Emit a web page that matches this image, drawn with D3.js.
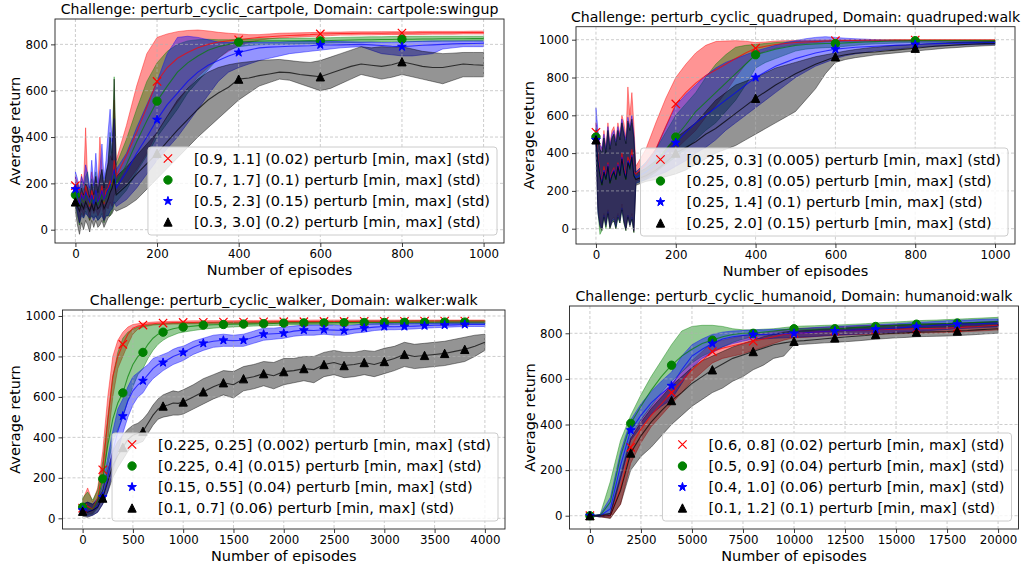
<!DOCTYPE html>
<html><head><meta charset="utf-8">
<script src="https://cdn.jsdelivr.net/npm/d3@7"></script>
<style>body{margin:0;background:#fff} svg{display:block} text{font-family:"DejaVu Sans",sans-serif;fill:#000}</style>
</head><body><svg id="c" width="1024" height="569"></svg>
<script>
// ---------------- DATA ----------------
const seriesColors = ['#ff0000','#008000','#0000ff','#000000'];
const seriesMarkers = ['x','o','*','^'];

// Panel 1: cartpole
const cartTitle = 'Challenge: perturb_cyclic_cartpole, Domain: cartpole:swingup';
const cartLabels = ['[0.9, 1.1] (0.02) perturb [min, max] (std)','[0.7, 1.7] (0.1) perturb [min, max] (std)','[0.5, 2.3] (0.15) perturb [min, max] (std)','[0.3, 3.0] (0.2) perturb [min, max] (std)'];
const cartXTicks = [0,200,400,600,800,1000];
const cartYTicks = [0,200,400,600,800];
const cartX = [0,5,10,15,20,25,30,35,40,45,50,55,60,65,70,75,80,85,90,95,100,125,150,175,200,225,250,275,300,325,350,375,400,425,450,475,500,525,550,575,600,625,650,675,700,725,750,775,800,825,850,875,900,925,950,975,1000];
const cartRedMean = [190,140,110,160,120,190,150,100,170,130,160,120,140,190,110,170,180,210,190,300,230,320,420,530,640,700,740,765,785,800,810,815,820,825,830,833,836,838,840,842,845,846,847,847,848,848,848,849,849,849,850,850,850,850,851,851,851];
const cartRedHi = [230,200,180,240,190,440,210,160,250,190,230,180,400,260,170,240,280,320,300,560,300,450,620,760,830,845,855,860,862,858,852,848,845,842,842,845,848,849,850,851,852,853,853,854,854,854,855,855,855,855,856,856,856,856,856,857,857];
const cartRedLo = [150,80,30,90,60,100,90,40,100,70,90,60,80,110,40,100,90,120,100,150,160,200,260,330,420,490,550,610,660,700,740,770,795,808,818,824,828,830,832,834,836,838,840,840,841,841,842,842,843,843,843,844,844,844,845,845,845];
const cartGreenMean = [150,130,100,140,120,150,140,110,130,120,160,110,130,150,120,140,160,180,200,250,200,280,380,470,555,620,680,720,750,775,790,800,810,812,814,815,815,815,815,816,815,817,818,819,820,820,821,821,822,822,823,823,824,824,824,825,825];
const cartGreenHi = [190,200,160,210,170,230,250,170,220,180,250,170,220,260,190,250,280,420,330,660,280,390,520,640,720,770,800,815,820,822,820,820,822,823,824,825,826,826,827,827,828,829,830,831,832,833,833,834,835,835,835,835,835,835,835,835,835];
const cartGreenLo = [110,60,20,70,50,80,60,40,60,50,60,40,50,70,30,60,60,60,80,110,120,170,250,320,400,460,520,590,640,690,740,775,790,795,798,800,800,801,802,803,805,806,807,808,809,810,810,811,812,812,813,813,814,814,815,815,815];
const cartBlueMean = [175,140,110,150,130,160,140,120,150,110,170,120,140,170,130,150,170,190,220,260,180,250,330,400,475,540,590,640,680,710,730,750,765,775,785,788,790,792,793,794,798,797,798,799,800,798,795,792,790,793,796,798,800,802,803,804,805];
const cartBlueHi = [250,220,170,230,200,280,240,180,300,190,330,200,260,370,220,300,420,520,380,480,260,330,440,540,640,760,830,835,830,820,810,808,810,810,810,810,810,812,813,814,815,813,812,811,810,810,808,808,810,812,813,815,815,815,815,815,815];
const cartBlueLo = [120,70,30,60,50,70,60,50,60,40,60,40,50,60,40,60,60,80,90,120,100,130,180,240,300,350,400,460,520,580,640,680,700,715,730,740,750,760,765,770,775,780,785,788,790,775,760,755,750,750,755,760,780,785,790,790,790];
const cartBlackMean = [120,100,80,110,90,120,100,80,110,80,120,90,100,130,90,110,130,160,180,220,150,190,240,285,330,380,430,475,520,560,590,615,650,655,665,672,680,678,670,665,660,675,690,705,715,710,705,712,725,715,705,700,700,708,715,712,710];
const cartBlackHi = [160,170,140,180,150,200,180,140,200,150,230,160,220,260,180,240,290,400,300,650,230,270,320,370,420,490,560,610,650,680,700,712,720,725,730,733,735,730,725,722,730,745,760,775,790,785,790,788,790,780,770,765,760,762,765,765,765];
const cartBlackLo = [80,20,-20,30,0,40,20,-10,40,10,40,10,20,40,10,30,50,60,70,90,80,100,130,175,220,265,310,355,400,440,480,520,560,590,620,635,650,645,630,615,600,610,630,650,670,660,650,658,670,660,650,640,630,645,660,660,660];

// Panel 2: quadruped
const quadTitle = 'Challenge: perturb_cyclic_quadruped, Domain: quadruped:walk';
const quadLabels = ['[0.25, 0.3] (0.005) perturb [min, max] (std)','[0.25, 0.8] (0.05) perturb [min, max] (std)','[0.25, 1.4] (0.1) perturb [min, max] (std)','[0.25, 2.0] (0.15) perturb [min, max] (std)'];
const quadXTicks = [0,200,400,600,800,1000];
const quadYTicks = [0,200,400,600,800,1000];
const quadX = [0,5,10,15,20,25,30,35,40,45,50,55,60,65,70,75,80,85,90,95,100,125,150,175,200,225,250,275,300,325,350,375,400,425,450,475,500,525,550,575,600,625,650,675,700,725,750,775,800,825,850,875,900,925,950,975,1000];
const quadRedMean = [510,380,300,250,330,280,350,260,300,320,280,350,300,400,330,280,380,350,420,300,290,340,420,540,660,720,770,810,840,870,900,930,955,965,975,980,985,988,990,993,995,996,996,997,997,997,998,998,998,998,998,998,998,998,998,998,998];
const quadRedHi = [560,500,450,420,520,430,560,450,520,540,470,560,500,600,560,480,750,600,720,550,330,420,560,690,800,870,930,970,990,993,995,992,985,988,993,995,996,997,998,999,1000,1000,1000,1000,1000,1000,1000,1000,1000,1000,1000,1000,1000,1000,1000,1000,1000];
const quadRedLo = [460,120,40,0,80,30,100,10,50,60,30,80,50,130,50,0,70,30,80,-10,250,270,300,350,420,470,520,590,650,720,800,870,920,940,955,965,975,980,985,988,990,991,992,992,993,993,993,993,993,993,993,993,993,993,993,993,993];
const quadGreenMean = [485,350,280,230,300,260,330,240,280,300,260,330,280,370,300,260,350,320,380,280,270,300,350,420,485,550,620,670,720,770,820,870,920,935,950,960,970,975,978,980,980,983,986,988,990,992,993,994,995,995,995,995,995,995,995,995,995];
const quadGreenHi = [530,480,420,400,480,400,520,420,480,500,440,520,470,560,500,450,560,520,560,480,300,350,420,510,600,660,720,800,870,920,960,970,975,980,985,988,990,992,993,994,995,996,996,997,997,998,998,998,998,998,998,998,998,998,998,998,998];
const quadGreenLo = [440,100,-30,-10,60,0,80,0,40,40,0,60,30,100,30,-10,60,20,50,-20,240,260,300,340,380,420,470,520,560,620,680,760,850,880,900,920,940,950,955,958,960,965,970,975,978,980,982,984,985,985,985,985,985,985,985,985,985];
const quadBlueMean = [470,360,290,240,310,270,340,250,290,310,270,340,290,380,310,270,360,330,390,290,270,300,340,400,455,510,560,600,640,680,720,760,800,830,860,880,900,915,930,940,950,955,960,963,965,968,970,972,975,977,979,980,981,982,983,984,985];
const quadBlueHi = [640,520,440,430,500,420,540,440,500,520,460,540,490,580,520,470,590,540,600,500,300,350,420,540,650,710,760,810,850,880,900,920,940,955,970,985,995,1005,1012,1016,1012,1008,1005,1003,1000,998,997,996,995,994,993,992,991,991,990,990,990];
const quadBlueLo = [420,90,20,0,70,20,90,10,40,50,10,70,40,110,40,0,70,20,60,-10,240,260,280,300,330,360,400,430,470,520,560,600,640,680,720,760,800,830,860,880,900,915,925,932,940,945,950,955,960,963,966,968,970,972,973,974,975];
const quadBlackMean = [470,350,280,230,300,260,330,240,280,300,260,330,280,370,300,260,350,320,380,280,260,280,310,350,400,430,460,500,530,570,610,650,690,725,760,790,820,845,870,890,910,920,928,932,935,940,945,950,955,960,965,968,972,975,977,979,980];
const quadBlackHi = [520,480,420,400,480,400,520,420,480,500,440,520,470,560,500,450,570,520,580,480,290,320,360,420,480,520,560,620,680,720,760,780,800,825,850,865,880,895,910,920,930,940,948,955,960,965,970,972,975,978,980,983,985,987,988,989,990];
const quadBlackLo = [420,80,10,-10,60,10,80,0,30,40,0,60,30,100,30,-10,60,10,50,-20,230,250,260,275,290,310,340,370,400,420,440,470,500,530,560,590,620,680,740,820,880,895,905,912,920,925,930,935,940,945,950,955,958,962,965,968,970];

// Panel 3: walker
const walkTitle = 'Challenge: perturb_cyclic_walker, Domain: walker:walk';
const walkLabels = ['[0.225, 0.25] (0.002) perturb [min, max] (std)','[0.225, 0.4] (0.015) perturb [min, max] (std)','[0.15, 0.55] (0.04) perturb [min, max] (std)','[0.1, 0.7] (0.06) perturb [min, max] (std)'];
const walkXTicks = [0,500,1000,1500,2000,2500,3000,3500,4000];
const walkYTicks = [0,200,400,600,800,1000];
const walkX = [0,50,100,150,200,250,300,350,400,450,500,550,600,650,700,750,800,850,900,950,1000,1100,1200,1300,1400,1500,1600,1700,1800,1900,2000,2100,2200,2300,2400,2500,2600,2700,2800,2900,3000,3100,3200,3300,3400,3500,3600,3700,3800,3900,4000];
const walkRedMean = [50,60,45,100,240,480,700,800,860,910,940,950,955,960,962,964,965,966,967,967,968,968,969,969,970,970,970,971,971,971,972,972,972,972,973,973,973,973,974,974,974,974,974,975,975,975,975,975,975,975,975];
const walkRedHi = [90,150,80,150,330,600,800,880,920,945,958,962,965,968,970,971,972,973,974,974,975,976,976,977,977,977,978,978,978,979,979,979,979,980,980,980,980,980,980,980,980,980,980,980,980,980,980,980,980,980,980];
const walkRedLo = [20,20,25,60,170,380,600,740,800,860,910,935,945,950,955,957,958,959,960,960,961,961,962,962,963,963,963,964,964,964,965,965,965,965,966,966,966,966,967,967,967,967,967,968,968,968,968,968,968,968,968];
const walkGreenMean = [55,50,45,90,195,360,490,570,620,700,760,800,820,860,890,910,920,930,937,942,945,950,955,957,958,960,960,961,962,963,965,966,966,966,966,967,967,967,968,968,968,968,969,969,969,969,970,970,970,970,970];
const walkGreenHi = [100,130,90,140,280,500,700,820,890,920,935,945,950,955,958,960,962,963,964,965,965,966,967,968,968,969,969,970,970,971,972,973,973,973,973,974,974,974,975,975,975,975,976,976,976,976,977,977,977,977,977];
const walkGreenLo = [25,15,20,50,130,260,380,440,500,580,650,710,740,790,830,860,880,895,905,915,920,928,935,940,943,946,948,950,952,953,955,956,956,957,957,958,958,958,959,959,959,959,960,960,960,960,961,961,961,961,961];
const walkBlueMean = [40,35,40,60,105,200,330,430,505,580,630,660,680,710,740,760,770,785,800,810,820,845,865,875,880,878,880,895,910,912,915,925,930,928,932,930,928,935,940,945,948,947,948,950,952,954,955,956,958,958,958];
const walkBlueHi = [70,80,70,100,160,300,430,540,590,650,700,720,740,760,790,800,810,820,835,845,850,875,890,905,910,905,910,925,940,940,945,950,955,955,955,955,950,955,960,962,963,962,962,964,965,965,966,966,966,966,966];
const walkBlueLo = [15,10,15,30,70,130,230,330,420,500,560,600,620,660,690,710,730,745,760,770,780,810,830,845,850,850,850,865,880,885,890,900,905,905,910,905,905,915,920,928,932,932,934,936,940,942,944,946,948,948,948];
const walkBlackMean = [35,30,40,55,100,180,260,310,350,390,410,420,430,470,510,540,555,560,570,568,575,600,625,650,670,660,690,700,715,705,725,730,740,735,760,770,755,760,770,760,775,790,810,800,805,810,815,825,835,850,870];
const walkBlackHi = [70,80,70,90,140,240,330,380,410,440,460,470,490,520,560,590,610,620,630,625,635,660,690,710,730,725,750,760,775,770,790,790,800,800,820,830,820,820,830,825,840,850,870,860,865,870,875,885,895,905,910];
const walkBlackLo = [10,5,15,30,70,130,200,250,290,330,360,370,380,420,460,490,500,505,510,510,515,540,565,590,610,595,630,640,655,640,660,670,680,670,700,710,695,700,710,700,715,730,750,740,745,750,755,765,775,800,830];

// Panel 4: humanoid
const humTitle = 'Challenge: perturb_cyclic_humanoid, Domain: humanoid:walk';
const humLabels = ['[0.6, 0.8] (0.02) perturb [min, max] (std)','[0.5, 0.9] (0.04) perturb [min, max] (std)','[0.4, 1.0] (0.06) perturb [min, max] (std)','[0.1, 1.2] (0.1) perturb [min, max] (std)'];
const humXTicks = [0,2500,5000,7500,10000,12500,15000,17500,20000];
const humYTicks = [0,200,400,600,800];
const humX = [0,500,1000,1500,2000,2500,3000,3500,4000,4500,5000,5500,6000,6500,7000,7500,8000,8500,9000,9500,10000,10500,11000,11500,12000,12500,13000,13500,14000,14500,15000,15500,16000,16500,17000,17500,18000,18500,19000,19500,20000];
const humRedMean = [0,0,0,120,300,380,440,490,540,590,640,680,720,735,745,755,765,775,785,795,800,802,805,808,810,812,813,815,816,817,818,819,820,821,822,823,825,828,830,833,835];
const humRedHi = [0,0,10,180,340,420,480,530,580,630,680,720,760,770,780,790,795,800,808,815,820,822,824,826,828,830,832,834,835,836,837,838,839,840,841,842,843,845,847,849,850];
const humRedLo = [0,-5,-10,50,230,320,390,440,490,540,590,630,670,690,700,710,725,740,755,770,780,782,785,788,790,792,794,795,796,797,798,799,800,801,802,803,805,808,810,812,815];
const humGreenMean = [0,0,60,260,405,480,550,610,660,700,730,755,770,785,795,800,800,805,810,815,820,818,818,820,820,822,825,828,830,832,835,838,840,840,842,843,845,846,848,849,850];
const humGreenHi = [0,5,150,330,440,530,610,680,750,810,830,835,835,830,820,815,815,818,820,825,830,832,833,835,836,838,840,842,845,848,850,852,855,857,858,860,862,864,866,868,870];
const humGreenLo = [0,-5,10,180,350,420,480,540,590,630,670,700,720,740,760,775,785,790,795,800,810,806,806,808,808,810,812,814,816,818,820,822,824,825,826,827,828,829,830,831,832];
const humBlueMean = [0,0,30,220,375,440,495,535,570,640,700,730,755,775,785,790,795,795,797,798,800,802,805,808,810,812,814,816,818,820,823,826,830,832,835,838,840,841,842,844,845];
const humBlueHi = [0,5,80,280,420,490,545,590,630,700,750,775,795,805,810,812,815,815,817,818,820,822,825,828,830,832,834,836,838,840,842,845,848,850,852,855,857,858,860,862,863];
const humBlueLo = [0,-5,0,160,330,390,445,480,510,580,650,690,715,740,755,765,775,775,778,780,782,784,786,789,792,794,796,798,800,802,804,806,808,811,814,817,820,822,824,826,828];
const humBlackMean = [0,0,0,110,275,350,410,460,505,540,580,610,640,665,690,705,720,735,750,758,765,768,772,776,780,784,787,790,795,798,800,802,805,806,807,808,810,812,815,818,820];
const humBlackHi = [0,5,10,170,340,410,470,520,570,610,650,680,700,720,740,755,770,785,795,805,810,812,815,818,820,823,826,828,832,834,836,838,840,841,842,843,844,846,848,850,852];
const humBlackLo = [0,-5,-12,50,200,260,300,350,400,440,480,510,540,560,590,610,640,660,690,700,750,752,755,758,760,763,766,770,774,777,780,782,785,786,787,788,790,792,795,798,800];

// ---------------- LAYOUT ----------------
const panels = [
  {title: cartTitle, labels: cartLabels, x: cartX, xTicks: cartXTicks, yTicks: cartYTicks, markEvery: 200,
   means: [cartRedMean,cartGreenMean,cartBlueMean,cartBlackMean], los: [cartRedLo,cartGreenLo,cartBlueLo,cartBlackLo], his: [cartRedHi,cartGreenHi,cartBlueHi,cartBlackHi],
   xDomain: [-50,1050], yDomain: [-57.4,909.5], left: 55, right: 504, top: 19, bottom: 243},
  {title: quadTitle, labels: quadLabels, x: quadX, xTicks: quadXTicks, yTicks: quadYTicks, markEvery: 200,
   means: [quadRedMean,quadGreenMean,quadBlueMean,quadBlackMean], los: [quadRedLo,quadGreenLo,quadBlueLo,quadBlackLo], his: [quadRedHi,quadGreenHi,quadBlueHi,quadBlackHi],
   xDomain: [-50,1050], yDomain: [-81,1068.8], left: 576, right: 1015, top: 26.7, bottom: 244},
  {title: walkTitle, labels: walkLabels, x: walkX, xTicks: walkXTicks, yTicks: walkYTicks, markEvery: 200,
   means: [walkRedMean,walkGreenMean,walkBlueMean,walkBlackMean], los: [walkRedLo,walkGreenLo,walkBlueLo,walkBlackLo], his: [walkRedHi,walkGreenHi,walkBlueHi,walkBlackHi],
   xDomain: [-200,4200], yDomain: [-52.9,1029.6], left: 62.5, right: 505, top: 310, bottom: 529},
  {title: humTitle, labels: humLabels, x: humX, xTicks: humXTicks, yTicks: humYTicks, markEvery: 2000,
   means: [humRedMean,humGreenMean,humBlueMean,humBlackMean], los: [humRedLo,humGreenLo,humBlueLo,humBlackLo], his: [humRedHi,humGreenHi,humBlueHi,humBlackHi],
   xDomain: [-1000,21000], yDomain: [-58.3,919.7], left: 569.5, right: 1018.5, top: 306, bottom: 529}
];

const svg = d3.select('#c');
const MS = 4.17;

function drawMarker(g, type, cx, cy, color) {
  if (type === 'x') {
    g.append('path').attr('d', `M${cx-MS},${cy-MS}L${cx+MS},${cy+MS}M${cx-MS},${cy+MS}L${cx+MS},${cy-MS}`)
      .attr('stroke', color).attr('stroke-width', 1.2).attr('fill', 'none');
  } else if (type === 'o') {
    g.append('circle').attr('cx', cx).attr('cy', cy).attr('r', MS).attr('fill', color).attr('stroke', color).attr('stroke-width', 1);
  } else if (type === '*') {
    const R = MS + 0.4, r = R * 0.382;
    const pts = [];
    for (let k = 0; k < 10; k++) {
      const a = -Math.PI / 2 + k * Math.PI / 5;
      const rr = k % 2 === 0 ? R : r;
      pts.push([cx + rr * Math.cos(a), cy + rr * Math.sin(a)]);
    }
    g.append('path').attr('d', 'M' + pts.join('L') + 'Z').attr('fill', color).attr('stroke', color).attr('stroke-width', 1);
  } else if (type === '^') {
    g.append('path').attr('d', `M${cx},${cy-MS}L${cx+MS},${cy+MS}L${cx-MS},${cy+MS}Z`).attr('fill', color).attr('stroke', color).attr('stroke-width', 1);
  }
}

panels.forEach((p, pi) => {
  const x = d3.scaleLinear().domain(p.xDomain).range([p.left, p.right]);
  const y = d3.scaleLinear().domain(p.yDomain).range([p.bottom, p.top]);
  const g = svg.append('g');
  const clipId = 'clip' + pi;
  g.append('clipPath').attr('id', clipId).append('rect')
    .attr('x', p.left).attr('y', p.top).attr('width', p.right - p.left).attr('height', p.bottom - p.top);

  const plot = g.append('g').attr('clip-path', `url(#${clipId})`);
  const fillG = plot.append('g');
  const gridG = plot.append('g');
  const lineG = plot.append('g');

  // bands
  p.means.forEach((m, si) => {
    const pts = p.x.map((xv, i) => ({x: xv, lo: p.los[si][i], hi: p.his[si][i], m: m[i]}));
    const area = d3.area().x(d => x(d.x)).y0(d => y(d.lo)).y1(d => y(d.hi));
    fillG.append('path').attr('d', area(pts)).attr('fill', seriesColors[si]).attr('fill-opacity', 0.42)
      .attr('stroke', seriesColors[si]).attr('stroke-opacity', 0.42).attr('stroke-width', 1);
  });

  // grid
  p.xTicks.forEach(t => gridG.append('line').attr('x1', x(t)).attr('x2', x(t)).attr('y1', p.top).attr('y2', p.bottom));
  p.yTicks.forEach(t => gridG.append('line').attr('y1', y(t)).attr('y2', y(t)).attr('x1', p.left).attr('x2', p.right));
  gridG.selectAll('line').attr('stroke', '#b0b0b0').attr('stroke-width', 0.8).attr('stroke-dasharray', '3,2').attr('stroke-opacity', 0.8);

  // mean lines + markers
  const lastX = p.x[p.x.length - 1];
  p.means.forEach((m, si) => {
    const pts = p.x.map((xv, i) => ({x: xv, m: m[i]}));
    const line = d3.line().x(d => x(d.x)).y(d => y(d.m));
    lineG.append('path').attr('d', line(pts)).attr('fill', 'none').attr('stroke', seriesColors[si])
      .attr('stroke-width', 1.1).attr('stroke-opacity', 0.7);
    const mg = lineG.append('g');
    pts.filter(d => d.x % p.markEvery === 0 && d.x < lastX).forEach(d => drawMarker(mg, seriesMarkers[si], x(d.x), y(d.m), seriesColors[si]));
  });

  // frame
  g.append('rect').attr('x', p.left).attr('y', p.top).attr('width', p.right - p.left).attr('height', p.bottom - p.top)
    .attr('fill', 'none').attr('stroke', '#222').attr('stroke-width', 0.9);

  // axes
  const xa = g.append('g').attr('transform', `translate(0,${p.bottom})`)
    .call(d3.axisBottom(x).tickValues(p.xTicks).tickFormat(d3.format('d')).tickSize(4).tickPadding(3));
  const ya = g.append('g').attr('transform', `translate(${p.left},0)`)
    .call(d3.axisLeft(y).tickValues(p.yTicks).tickFormat(d3.format('d')).tickSize(4).tickPadding(3));
  [xa, ya].forEach(a => {
    a.select('.domain').remove();
    a.selectAll('.tick line').attr('stroke', '#222').attr('stroke-width', 0.9);
    a.selectAll('.tick text').attr('font-size', 11.8).attr('font-family', '"DejaVu Sans",sans-serif').attr('fill', '#000');
  });
  let maxW = 0;
  ya.selectAll('.tick text').each(function() { maxW = Math.max(maxW, this.getComputedTextLength()); });

  // title & labels
  const cx = (p.left + p.right) / 2;
  g.append('text').attr('x', cx).attr('y', p.top - 5).attr('text-anchor', 'middle').attr('font-size', 14.1).text(p.title);
  g.append('text').attr('x', cx).attr('y', p.bottom + 31.5).attr('text-anchor', 'middle').attr('font-size', 14.5).text('Number of episodes');
  const ylx = p.left - 7 - maxW - 5;
  g.append('text').attr('transform', `translate(${ylx},${(p.top + p.bottom) / 2}) rotate(-90)`)
    .attr('text-anchor', 'middle').attr('font-size', 14.5).text('Average return');

  // legend
  const lg = g.append('g');
  const bg = lg.append('rect');
  const texts = [];
  let tw = 0;
  p.labels.forEach((lab, si) => {
    const t = lg.append('text').attr('font-size', 14.5).text(lab);
    texts.push(t);
    tw = Math.max(tw, t.node().getComputedTextLength());
  });
  const lw = tw + 46 + 7, lh = 88;
  const lx = p.right - 7 - lw, ly = p.bottom - 8 - lh;
  bg.attr('x', lx).attr('y', ly).attr('width', lw).attr('height', lh).attr('rx', 3)
    .attr('fill', '#fff').attr('fill-opacity', 0.8).attr('stroke', '#cccccc').attr('stroke-width', 1);
  const rowY = [11.5, 33, 54, 75];
  texts.forEach((t, si) => {
    t.attr('x', lx + 46).attr('y', ly + rowY[si]).attr('dy', '0.35em');
    drawMarker(lg, seriesMarkers[si], lx + 20, ly + rowY[si], seriesColors[si]);
  });
});
</script></body></html>
